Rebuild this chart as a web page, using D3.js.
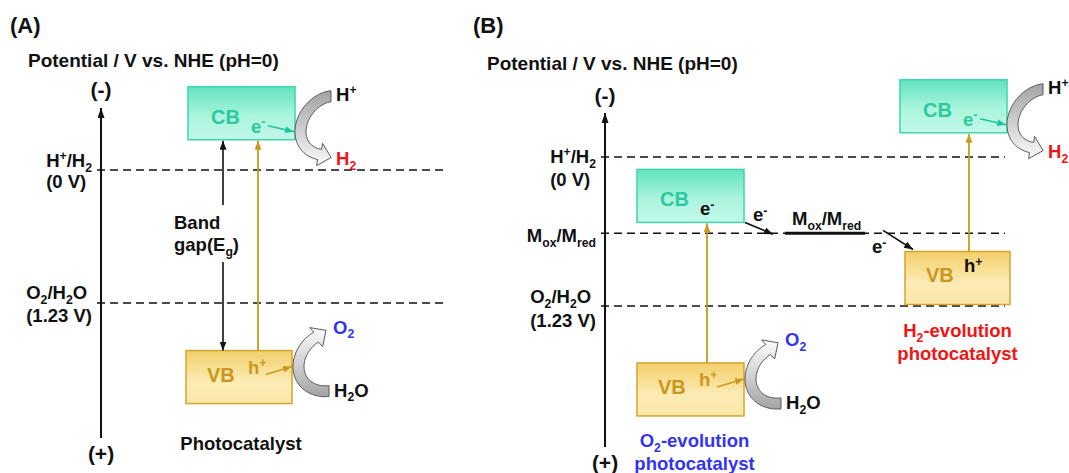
<!DOCTYPE html>
<html>
<head>
<meta charset="utf-8">
<script src="https://cdn.jsdelivr.net/npm/d3@7"></script>
<style>
  body { margin: 0; background: #fff; }
  text { font-family: "Liberation Sans", Arial, sans-serif; font-weight: bold; }
</style>
</head>
<body>
<script>
var width = 1069;
var height = 473;

// redox levels, V vs. NHE (pH=0)
var levelNames = ["H^+/H_2", "M_{ox}/M_{red}", "O_2/H_2O"];
var levelValues = [0, 0.63, 1.23];
var levelSubLabels = ["(0 V)", "", "(1.23 V)"];

// photocatalysts: CB minimum and VB maximum, V vs. NHE
var catalystNames = [["Photocatalyst"], ["O_2-evolution", "photocatalyst"], ["H_2-evolution", "photocatalyst"]];
var cbEdges = [-0.28, 0.54, -0.20];
var vbEdges = [1.67, 1.70, 0.78];

var panelTitles = ["(A)", "(B)"];
var axisTitle = "Potential  / V vs. NHE (pH=0)";

var yA = d3.scaleLinear().domain([0, 1.23]).range([170, 303]);
var yB = d3.scaleLinear().domain([0, 1.23]).range([157, 306]);

var boxH = 53;
var fs = 18.5;

var colors = {
  teal: "#1fc69a",
  tealText: "#2cc99c",
  gold: "#c99b1c",
  goldText: "#c9981e",
  red: "#f01414",
  blue: "#3333f2"
};

var svg = d3.select("body").append("svg")
  .attr("width", width)
  .attr("height", height);

var defs = svg.append("defs");

function linGrad(id, stops) {
  var g = defs.append("linearGradient").attr("id", id)
    .attr("x1", 0).attr("y1", 0).attr("x2", 0).attr("y2", 1);
  stops.forEach(function(s) {
    g.append("stop").attr("offset", s[0]).attr("stop-color", s[1]);
  });
}
linGrad("cbFill", [[0, "#62e3c0"], [0.55, "#aaf4de"], [1, "#c3f8ea"]]);
linGrad("vbFill", [[0, "#f3cf6a"], [0.6, "#fcebb5"], [1, "#fbe7a8"]]);
linGrad("grayDown", [[0, "#a3a3a3"], [0.5, "#cdcdcd"], [1, "#fbfbfb"]]);
linGrad("grayUp", [[0, "#fbfbfb"], [0.5, "#d3d3d3"], [1, "#a3a3a3"]]);

function marker(id, color, len, w) {
  defs.append("marker").attr("id", id)
    .attr("viewBox", "0 0 " + len + " " + w)
    .attr("refX", len).attr("refY", w / 2)
    .attr("markerUnits", "userSpaceOnUse")
    .attr("markerWidth", len).attr("markerHeight", w)
    .attr("orient", "auto")
    .append("path")
    .attr("d", "M0,0L" + len + "," + (w / 2) + "L0," + w + "Z")
    .attr("fill", color);
}
marker("arBlack", "#111", 9, 7);
marker("arAxis", "#111", 10, 7);
marker("arGold", colors.gold, 9, 7);
marker("arTeal", colors.teal, 9, 7);

// text with ^sup and _sub markup
function rich(g, str, x, y, opts) {
  opts = opts || {};
  var size = opts.size || fs;
  var t = g.append("text")
    .attr("x", x).attr("y", y)
    .attr("font-size", size)
    .attr("fill", opts.color || "#111")
    .attr("text-anchor", opts.anchor || "start");
  var re = /([\^_])(\{[^}]*\}|.)|([^\^_]+)/g;
  var m, shift = 0;
  while ((m = re.exec(str)) !== null) {
    if (m[3]) {
      t.append("tspan").attr("dy", -shift).text(m[3]);
      shift = 0;
    } else {
      var s = m[2].replace(/[{}]/g, "");
      var ds = m[1] === "^" ? -0.36 * size : 0.26 * size;
      t.append("tspan").attr("dy", ds - shift)
        .attr("font-size", size * 0.66).text(s);
      shift = ds;
    }
  }
  return t;
}

function arrow(g, x1, y1, x2, y2, color, mk, sw) {
  g.append("line")
    .attr("x1", x1).attr("y1", y1).attr("x2", x2).attr("y2", y2)
    .attr("stroke", color).attr("stroke-width", sw || 1.6)
    .attr("marker-end", "url(#" + mk + ")");
}

// thick curved gray arrow along a (shrinking) ellipse from angle t0 to t1 (degrees)
function curvedArrow(g, cx, cy, rx, ry0, ry1, w, t0, t1, fill) {
  var n = 40, outer = [], inner = [], mid = [];
  for (var i = 0; i <= n; i++) {
    var f = i / n;
    var t = (t0 + (t1 - t0) * f) * Math.PI / 180;
    var ry = ry0 + (ry1 - ry0) * f;
    var o = [cx + rx * Math.cos(t), cy + ry * Math.sin(t)];
    var q = [cx + (rx - w) * Math.cos(t), cy + (ry - w) * Math.sin(t)];
    outer.push(o); inner.push(q);
    mid.push([(o[0] + q[0]) / 2, (o[1] + q[1]) / 2]);
  }
  var M = mid[n], P = mid[n - 2];
  var dx = M[0] - P[0], dy = M[1] - P[1], L = Math.hypot(dx, dy);
  dx /= L; dy /= L;
  var nx = -dy, ny = dx;
  var oe = outer[n];
  var side = ((oe[0] - M[0]) * nx + (oe[1] - M[1]) * ny) > 0 ? 1 : -1;
  var hw = w * 1.05, hl = 12;
  var bo = [M[0] + side * nx * hw, M[1] + side * ny * hw];
  var bi = [M[0] - side * nx * hw, M[1] - side * ny * hw];
  var tip = [M[0] + dx * hl, M[1] + dy * hl];
  var pts = outer.concat([bo, tip, bi]).concat(inner.slice().reverse());
  g.append("path")
    .attr("d", d3.line()(pts) + "Z")
    .attr("fill", "url(#" + fill + ")")
    .attr("stroke", "#5a5a5a")
    .attr("stroke-width", 1);
}

function drawAxis(g, x, top, bottom, minusY, plusY) {
  arrow(g, x, bottom, x, top, "#111", "arAxis", 2);
  g.append("text").attr("x", x).attr("y", minusY).attr("text-anchor", "middle")
    .attr("font-size", 21).attr("fill", "#111").text("(-)");
  g.append("text").attr("x", x).attr("y", plusY).attr("text-anchor", "middle")
    .attr("font-size", 21).attr("fill", "#111").text("(+)");
}

function drawLevel(g, idx, y, x1, x2, axisX, dTop, dBot) {
  var yy = y(levelValues[idx]);
  g.append("line")
    .attr("x1", x1).attr("x2", x2).attr("y1", yy).attr("y2", yy)
    .attr("stroke", "#111").attr("stroke-width", 1.6)
    .attr("stroke-dasharray", "8,5");
  var t1 = rich(g, levelNames[idx], 0, yy + dTop);
  var w1 = t1.node().getComputedTextLength();
  var t2 = null, w2 = 0;
  if (levelSubLabels[idx]) {
    t2 = rich(g, levelSubLabels[idx], 0, yy + dBot);
    w2 = t2.node().getComputedTextLength();
  }
  var left = axisX - 9 - Math.max(w1, w2);
  t1.attr("x", left);
  if (t2) t2.attr("x", left);
}

function cbBox(g, x, w, edge, y) {
  var bottom = y(edge);
  g.append("rect")
    .attr("x", x).attr("y", bottom - boxH).attr("width", w).attr("height", boxH)
    .attr("fill", "url(#cbFill)").attr("stroke", "#3fd6ac").attr("stroke-width", 1.5);
  rich(g, "CB", x + 23, bottom - boxH + 37, { size: 20, color: colors.tealText });
  return { x: x, w: w, top: bottom - boxH, bottom: bottom, right: x + w };
}

function vbBox(g, x, w, edge, y) {
  var top = y(edge);
  g.append("rect")
    .attr("x", x).attr("y", top).attr("width", w).attr("height", boxH)
    .attr("fill", "url(#vbFill)").attr("stroke", "#d3a52e").attr("stroke-width", 1.5);
  rich(g, "VB", x + 21, top + 31, { size: 20, color: colors.goldText });
  return { x: x, w: w, top: top, bottom: top + boxH, right: x + w };
}

// reduction side: e- in CB reaches H+ -> H2
function h2Side(g, cb) {
  rich(g, "e^-", cb.x + 63, cb.top + 46, { color: colors.tealText });
  arrow(g, cb.x + 80, cb.top + 39, cb.right - 1, cb.top + 45, colors.teal, "arTeal", 1.6);
  curvedArrow(g, cb.right + 36, cb.top + 45, 36, 41, 30, 11, 270, 112, "grayDown");
  rich(g, "H^+", cb.right + 41, cb.top + 14);
  rich(g, "H_2", cb.right + 41, cb.top + 78, { color: colors.red });
}

// oxidation side: h+ in VB oxidises H2O -> O2
function o2Side(g, vb) {
  rich(g, "h^+", vb.x + 62, vb.top + 23, { color: colors.goldText });
  arrow(g, vb.x + 80, vb.top + 24, vb.right, vb.top + 16, colors.gold, "arGold", 1.6);
  curvedArrow(g, vb.right + 37, vb.top + 16, 36, 30, 38, 11, 90, 245, "grayUp");
  rich(g, "O_2", vb.right + 41, vb.top - 17, { color: colors.blue });
  rich(g, "H_2O", vb.right + 42, vb.top + 46);
}

function catalystLabel(g, idx, cx, y0, color) {
  catalystNames[idx].forEach(function(s, i) {
    rich(g, s, cx, y0 + i * 23, { anchor: "middle", color: color });
  });
}

// ---------- panel A ----------
var gA = svg.append("g");
rich(gA, panelTitles[0], 10, 33, { size: 22 });
rich(gA, axisTitle, 28, 67, { size: 19 });
drawAxis(gA, 101, 108, 438, 97, 461);
drawLevel(gA, 0, yA, 97, 445, 101, -3, 18);
drawLevel(gA, 2, yA, 97, 445, 101, -4, 19);

var cbA = cbBox(gA, 188, 107, cbEdges[0], yA);
var vbA = vbBox(gA, 186, 106, vbEdges[0], yA);
// band gap arrows
arrow(gA, cbA.x + 35, 205, cbA.x + 35, cbA.bottom + 1, "#111", "arBlack", 1.6);
arrow(gA, cbA.x + 35, 262, cbA.x + 35, vbA.top, "#111", "arBlack", 1.6);
rich(gA, "Band", 174, 229);
rich(gA, "gap(E_g)", 174, 251);
// excitation
arrow(gA, cbA.x + 70, vbA.top, cbA.x + 70, cbA.bottom + 1, colors.gold, "arGold", 1.8);
h2Side(gA, cbA);
o2Side(gA, vbA);
catalystLabel(gA, 0, (vbA.x + vbA.right) / 2 + 2, 450, "#111");

// ---------- panel B ----------
var gB = svg.append("g");
rich(gB, panelTitles[1], 473, 33, { size: 22 });
rich(gB, axisTitle, 487, 70, { size: 19 });
drawAxis(gB, 605, 113, 447, 103, 470);
drawLevel(gB, 0, yB, 601, 1005, 605, 6, 29);
drawLevel(gB, 1, yB, 601, 1005, 605, 9, 0);
drawLevel(gB, 2, yB, 601, 1005, 605, -3, 21);

// O2-evolution photocatalyst
var cbO = cbBox(gB, 637, 107, cbEdges[1], yB);
var vbO = vbBox(gB, 637, 107, vbEdges[1], yB);
arrow(gB, cbO.x + 70, vbO.top, cbO.x + 70, cbO.bottom + 1, colors.gold, "arGold", 1.8);
rich(gB, "e^-", cbO.x + 63, cbO.top + 46);
o2Side(gB, vbO);
catalystLabel(gB, 1, (vbO.x + vbO.right) / 2 + 4, 447, colors.blue);

// H2-evolution photocatalyst
var cbH = cbBox(gB, 900, 107, cbEdges[2], yB);
var vbH = vbBox(gB, 905, 105, vbEdges[2], yB);
arrow(gB, cbH.x + 69, vbH.top, cbH.x + 69, cbH.bottom + 1, colors.gold, "arGold", 1.8);
rich(gB, "h^+", vbH.x + 59, vbH.top + 21);
h2Side(gB, cbH);
catalystLabel(gB, 2, (vbH.x + vbH.right) / 2, 337, colors.red);

// electron mediator Mox/Mred
var yM = yB(levelValues[1]);
gB.append("line")
  .attr("x1", 785).attr("x2", 865).attr("y1", yM).attr("y2", yM)
  .attr("stroke", "#111").attr("stroke-width", 3);
rich(gB, levelNames[1], 792, yM - 8);
arrow(gB, cbO.right + 1, cbO.bottom, 773, yM + 1, "#111", "arBlack", 1.6);
rich(gB, "e^-", 753, cbO.bottom - 1);
arrow(gB, 883, yM - 3, vbH.x + 8, vbH.top - 2, "#111", "arBlack", 1.6);
rich(gB, "e^-", 872, yM + 20);
</script>
</body>
</html>
